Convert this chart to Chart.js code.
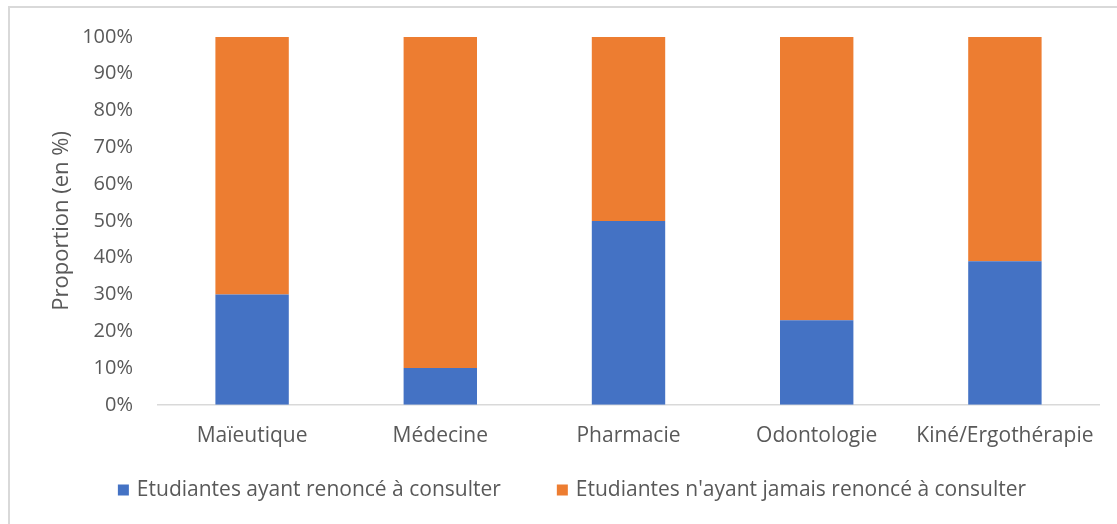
<!DOCTYPE html>
<html lang="fr">
<head>
<meta charset="utf-8">
<title>Renoncement à consulter par filière</title>
<script src="https://cdn.jsdelivr.net/npm/chart.js@4/dist/chart.umd.min.js"></script>
<style>
  html, body { margin: 0; padding: 0; background: #fff; overflow: hidden; }
  #frame {
    position: absolute; left: 8px; top: 6px; width: 1200px; height: 600px;
    border-left: 2px solid #d9d9d9; border-top: 2px solid #d9d9d9;
  }
  #wrap { position: absolute; left: 0; top: 0; width: 1117px; height: 524px; }
</style>
</head>
<body>
<div id="frame"></div>
<div id="wrap"><canvas id="chart"></canvas></div>
<script>
const filieres = ['Maïeutique', 'Médecine', 'Pharmacie', 'Odontologie', 'Kiné/Ergothérapie'];
const ayantRenonce = [30, 10, 50, 23, 39];
const jamaisRenonce = [70, 90, 50, 77, 61];
const serieLabels = ['Etudiantes ayant renoncé à consulter', "Etudiantes n'ayant jamais renoncé à consulter"];
const yTicks = [0, 10, 20, 30, 40, 50, 60, 70, 80, 90, 100];

const FONT = '"Open Sans", "DejaVu Sans", sans-serif';
const GREY = '#595959';

// legend drawn by hand so the spacing between the two entries can be wide
const bottomLegend = {
  id: 'bottomLegend',
  afterDraw(chart) {
    const ctx = chart.ctx;
    const gap = 56, box = 11, boxGap = 8, cy = 490;
    ctx.save();
    ctx.font = '21px ' + FONT;
    ctx.textBaseline = 'middle';
    const items = chart.data.datasets.map(ds => ({
      text: ds.label, color: ds.backgroundColor, w: box + boxGap + ctx.measureText(ds.label).width
    }));
    const total = items.reduce((s, it) => s + it.w, 0) + gap * (items.length - 1);
    let x = 572 - total / 2;
    items.forEach(it => {
      ctx.fillStyle = it.color;
      ctx.fillRect(x, cy - box / 2, box, box);
      ctx.fillStyle = GREY;
      ctx.fillText(it.text, x + box + boxGap, cy);
      x += it.w + gap;
    });
    ctx.restore();
  }
};

new Chart('chart', {
  type: 'bar',
  data: {
    labels: filieres,
    datasets: [
      { label: serieLabels[0], data: ayantRenonce, backgroundColor: '#4472c4' },
      { label: serieLabels[1], data: jamaisRenonce, backgroundColor: '#ed7d31' }
    ]
  },
  plugins: [bottomLegend],
  options: {
    responsive: true,
    maintainAspectRatio: false,
    animation: false,
    layout: { padding: { top: 35, left: 48, right: 18, bottom: 56 } },
    plugins: {
      legend: { display: false },
      tooltip: { enabled: false }
    },
    datasets: { bar: { barPercentage: 1, categoryPercentage: 0.39 } },
    scales: {
      x: {
        stacked: true,
        grid: { display: false, drawTicks: false },
        border: { color: '#d9d9d9', width: 1.5 },
        ticks: { color: GREY, font: { family: FONT, size: 21 }, padding: 19 }
      },
      y: {
        stacked: true,
        min: 0,
        max: 100,
        afterFit(scale) { scale.width = 110; },
        afterBuildTicks(scale) { scale.ticks = yTicks.map(v => ({ value: v })); },
        grid: { display: false, drawTicks: false },
        border: { display: false },
        title: {
          display: true,
          text: 'Proportion (en %)',
          color: GREY,
          font: { family: FONT, size: 22 },
          padding: { top: 1, bottom: 0 }
        },
        ticks: {
          color: GREY,
          font: { family: FONT, size: 20 },
          padding: 25,
          callback: v => v + '%'
        }
      }
    }
  }
});
</script>
</body>
</html>
